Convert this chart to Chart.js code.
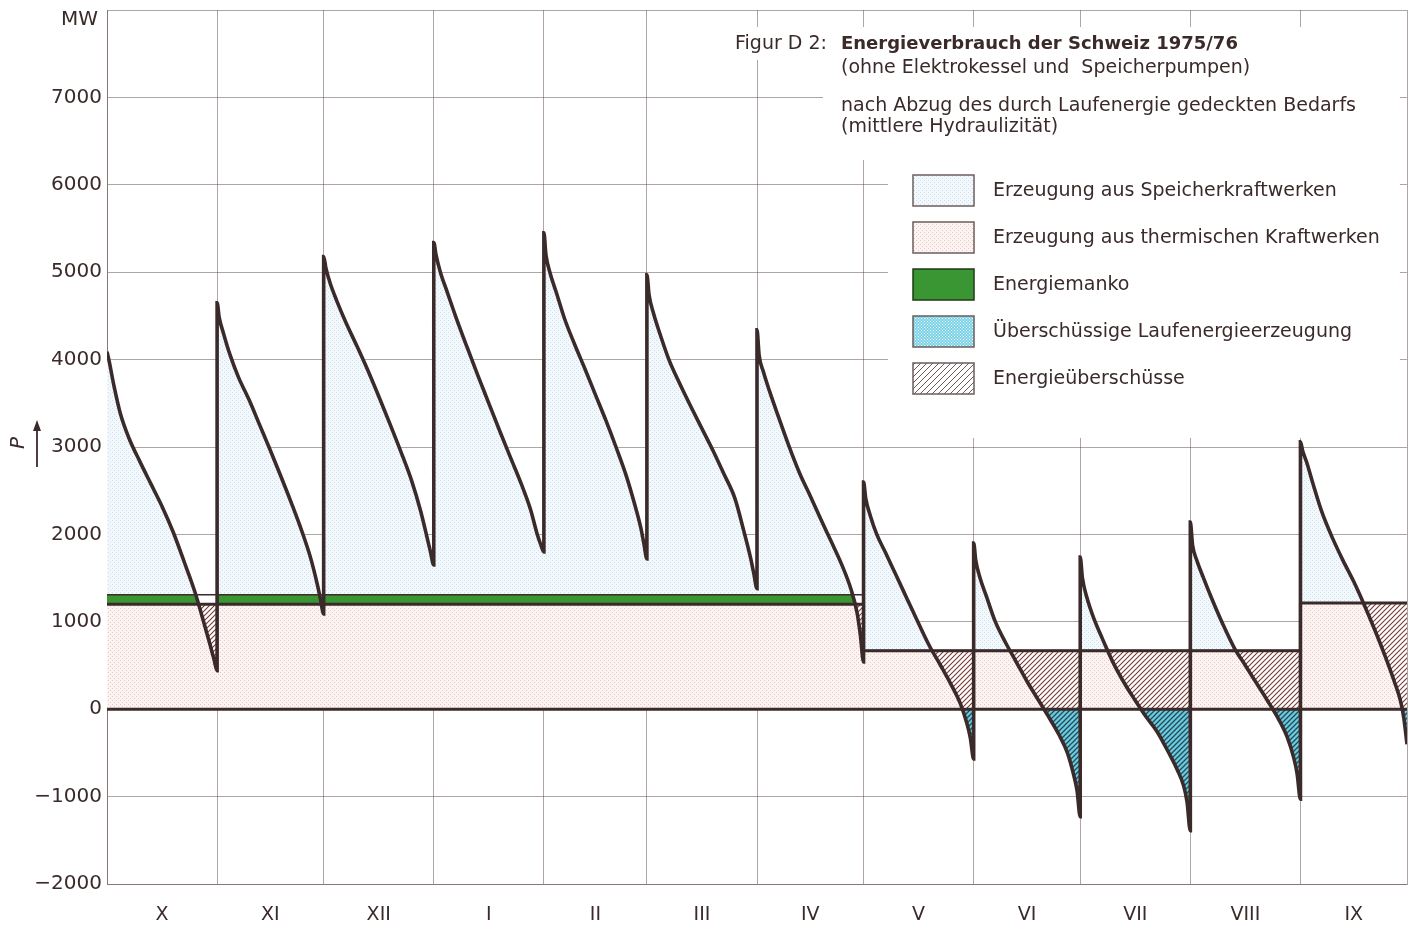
<!DOCTYPE html>
<html><head><meta charset="utf-8">
<script src="https://cdn.jsdelivr.net/npm/chart.js@4.4.1/dist/chart.umd.min.js"></script>
<style>html,body{margin:0;padding:0;background:#fff;}#wrap{width:1418px;height:929px;}</style>
</head><body><div id="wrap"><canvas id="c" width="1418" height="929"></canvas></div>
<script>
// ---- data ----
const monthLabels = ['X','XI','XII','I','II','III','IV','V','VI','VII','VIII','IX'];
const monthDays = [31,30,31,31,29,31,30,31,30,31,31,30];
const samplePos = [0,0.02,0.06,0.12,0.2,0.3,0.4,0.5,0.6,0.7,0.8,0.88,0.94,0.97,1];
const demandX    = [4090,3980,3720,3390,3100,2830,2575,2320,2030,1690,1335,990,720,580,440];
const demandXI   = [4650,4480,4300,4060,3800,3540,3250,2960,2660,2350,2020,1720,1430,1260,1090];
const demandXII  = [5180,5050,4870,4670,4430,4160,3880,3580,3270,2950,2610,2270,1960,1800,1650];
const demandI    = [5340,5200,5000,4780,4490,4150,3820,3500,3180,2870,2560,2280,2000,1890,1800];
const demandII   = [5450,5200,4990,4770,4470,4170,3890,3600,3310,3000,2670,2350,2080,1900,1720];
const demandIII  = [4970,4740,4530,4290,4000,3720,3460,3210,2960,2690,2410,2040,1740,1560,1380];
const demandIV   = [4340,4050,3860,3630,3350,3010,2700,2440,2170,1910,1640,1380,1100,850,540];
const demandV    = [2600,2410,2220,2000,1790,1520,1250,980,720,500,270,60,-170,-330,-570];
const demandVI   = [1900,1700,1500,1290,1010,760,540,320,120,-80,-290,-500,-760,-930,-1230];
const demandVII  = [1740,1500,1280,1050,810,530,300,100,-90,-260,-490,-690,-880,-1060,-1390];
const demandVIII = [2140,1880,1700,1500,1250,960,700,500,300,100,-110,-320,-560,-740,-1030];
const demandIX   = [3060,2960,2820,2570,2260,1960,1700,1460,1190,900,590,320,90,-100,-400];
const thermalLevel = [1200,1200,1200,1200,1200,1200,1200,670,670,670,670,1215];
const mankoLevel   = [1310,1310,1310,1310,1310,1310,1310,670,670,670,670,1215];
const yMin = -2000, yMax = 8000, yStep = 1000;
const titleLead = 'Figur D 2:';
const titleBold = 'Energieverbrauch der Schweiz 1975/76';
const titleLines = ['(ohne Elektrokessel und  Speicherpumpen)', 'nach Abzug des durch Laufenergie gedeckten Bedarfs', '(mittlere Hydraulizität)'];
const legendLabels = ['Erzeugung aus Speicherkraftwerken','Erzeugung aus thermischen Kraftwerken','Energiemanko','Überschüssige Laufenergieerzeugung','Energieüberschüsse'];

// ---- build points from the arrays ----
const demandByMonth = [demandX,demandXI,demandXII,demandI,demandII,demandIII,demandIV,demandV,demandVI,demandVII,demandVIII,demandIX];
const bounds = [0];
monthDays.forEach(d => bounds.push(bounds[bounds.length-1] + d));
const centers = monthDays.map((d,i) => bounds[i] + d/2);
const demandPts = [];
demandByMonth.forEach((arr,i) => samplePos.forEach((p,j) => demandPts.push({x: bounds[i] + p*monthDays[i], y: arr[j]})));
function stepPts(levels){ const pts=[]; levels.forEach((v,i)=>{pts.push({x:bounds[i],y:v});pts.push({x:bounds[i+1],y:v});}); return pts; }
const thermalPts = stepPts(thermalLevel);
const mankoPts = stepPts(mankoLevel);
const zeroPts = [{x:bounds[0],y:0},{x:bounds[bounds.length-1],y:0}];

// ---- patterns ----
const canvas = document.getElementById('c');
const mctx = canvas.getContext('2d');
function dotPattern(bg, dot, size){
  const c=document.createElement('canvas'); c.width=c.height=size; const g=c.getContext('2d');
  g.fillStyle=bg; g.fillRect(0,0,size,size); g.fillStyle=dot; g.fillRect(0,0,1,1); g.fillRect(size/2,size/2,1,1);
  return mctx.createPattern(c,'repeat');
}
function hatchPattern(bg, line, size, lw){
  const c=document.createElement('canvas'); c.width=c.height=size; const g=c.getContext('2d');
  if(bg){g.fillStyle=bg; g.fillRect(0,0,size,size);}
  g.strokeStyle=line; g.lineWidth=lw; g.beginPath();
  g.moveTo(-1,size+1); g.lineTo(size+1,-1);
  g.moveTo(-1,1); g.lineTo(1,-1);
  g.moveTo(size-1,size+1); g.lineTo(size+1,size-1);
  g.stroke();
  return mctx.createPattern(c,'repeat');
}
const bluePat = dotPattern('#f2f8fb','#c9e0ee',4);
const pinkPat = dotPattern('#fcf4f2','#ecc6be',4);
const cyanPat = hatchPattern('#66cde3','#2c4650',5,1.3);
const brownPat = hatchPattern(null,'#7a3a32',5,1.1);
const cyanDots = dotPattern('#79d3e8','#ffffff',3);
const legendHatch = hatchPattern('#ffffff','#6a5a58',6,1);
const GREEN = '#3a9632';
const INK = '#3b2a2a';
const GRID = 'rgba(95,75,75,0.5)';

// ---- plugins ----
const masks = [[728,27,672,33],[823,60,577,100],[888,160,512,278]];
const decor = {
  id:'decor',
  beforeDatasetsDraw(chart){
    const c=chart.ctx; c.save(); c.fillStyle='#fff';
    masks.forEach(m=>c.fillRect(m[0],m[1],m[2],m[3])); c.restore();
  },
  afterDraw(chart){
    const c=chart.ctx; c.save();
    c.fillStyle=INK; c.textBaseline='middle';
    c.font='20px "DejaVu Sans"'; c.textAlign='right'; c.fillText('MW',98,20);
    c.save(); c.translate(19,443); c.rotate(-Math.PI/2); c.font='italic 20px "DejaVu Sans"'; c.textAlign='center'; c.fillText('P',0,0); c.restore();
    c.strokeStyle=INK; c.lineWidth=1.8; c.beginPath(); c.moveTo(37,467); c.lineTo(37,428); c.stroke();
    c.beginPath(); c.moveTo(37,420); c.lineTo(33,431); c.lineTo(41,431); c.closePath(); c.fill();
    c.textAlign='left';
    c.font='19px "DejaVu Sans"'; c.fillText(titleLead,735,44);
    c.font='bold 18px "DejaVu Sans"'; c.fillText(titleBold,841,44);
    c.font='19px "DejaVu Sans"';
    c.fillText(titleLines[0],841,68);
    c.fillText(titleLines[1],841,106);
    c.fillText(titleLines[2],841,127);
    const fills=[bluePat,pinkPat,GREEN,cyanDots,legendHatch];
    legendLabels.forEach((t,i)=>{
      const y=175+i*47;
      c.fillStyle=fills[i]; c.fillRect(913,y,61,31);
      c.strokeStyle= i===2 ? '#1e3a18' : '#6b5e5e'; c.lineWidth=1.5; c.strokeRect(913,y,61,31);
      c.fillStyle=INK; c.font='19px "DejaVu Sans"'; c.fillText(t,993,y+16);
    });
    c.restore();
  }
};

const base = {pointRadius:0, pointHoverRadius:0, tension:0, parsing:false};
new Chart(canvas, {
  type:'line',
  data:{ datasets:[
    Object.assign({}, base, {label:'Verbrauch', data:demandPts, borderColor:INK, borderWidth:3.6, cubicInterpolationMode:'monotone', fill:false, order:0}),
    Object.assign({}, base, {label:'Null', data:zeroPts, borderColor:INK, borderWidth:3, fill:{target:0, above:cyanPat, below:'rgba(0,0,0,0)'}, order:1}),
    Object.assign({}, base, {label:'Thermisch', data:thermalPts, borderColor:INK, borderWidth:3, fill:{target:0, above:brownPat, below:'rgba(0,0,0,0)'}, order:2}),
    Object.assign({}, base, {label:'Speicher', data:mankoPts, borderColor:INK, borderWidth:1.6, fill:{target:0, above:'#ffffff', below:bluePat}, order:3}),
    Object.assign({}, base, {label:'Manko', data:mankoPts, borderColor:'rgba(0,0,0,0)', borderWidth:0, fill:{target:5, above:GREEN, below:'rgba(0,0,0,0)'}, order:4}),
    Object.assign({}, base, {label:'ThermBasis', data:thermalPts, borderColor:'rgba(0,0,0,0)', borderWidth:0, fill:{target:'origin', above:pinkPat, below:'rgba(0,0,0,0)'}, order:5})
  ]},
  options:{
    responsive:false, animation:false, devicePixelRatio:1, events:[],
    layout:{padding:{left:0,top:10,right:11,bottom:0}},
    plugins:{legend:{display:false}, title:{display:false}, tooltip:{enabled:false}},
    scales:{
      x:{type:'linear', position:'bottom', min:bounds[0], max:bounds[bounds.length-1],
         afterBuildTicks(s){ s.ticks = bounds.map(v=>({value:v})); },
         afterFit(s){ s.height=0; s.paddingLeft=0; s.paddingRight=0; },
         ticks:{display:false}, grid:{color:GRID, lineWidth:1, drawTicks:false}, border:{display:true,color:GRID,width:1}},
      x2:{type:'linear', position:'bottom', min:bounds[0], max:bounds[bounds.length-1],
         afterBuildTicks(s){ s.ticks = centers.map(v=>({value:v})); },
         afterFit(s){ s.height=45; s.paddingLeft=0; s.paddingRight=0; },
         ticks:{callback:(v,i)=>monthLabels[i], autoSkip:false, maxRotation:0, padding:20, color:INK, font:{family:'DejaVu Sans', size:19}},
         grid:{display:false, drawTicks:false}, border:{display:false}},
      y:{type:'linear', min:yMin, max:yMax,
         afterBuildTicks(s){ const t=[]; for(let v=yMin; v<=yMax; v+=yStep) t.push({value:v}); s.ticks=t; },
         afterFit(s){ s.width=107; s.paddingTop=0; s.paddingBottom=0; },
         ticks:{callback:v=> v===yMax ? '' : (v<0 ? '\u2212'+Math.abs(v) : String(v)), padding:5, color:INK, font:{family:'DejaVu Sans', size:20}},
         grid:{color:GRID, lineWidth:1, drawTicks:false}, border:{display:true,color:GRID,width:1}}
    }
  },
  plugins:[decor]
});
</script></body></html>
